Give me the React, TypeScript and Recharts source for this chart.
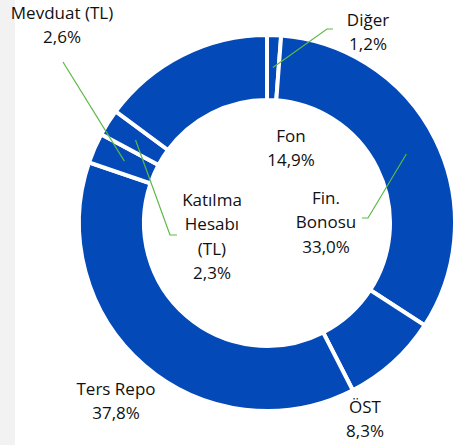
import { PieChart, Pie, Cell } from 'recharts';

// portföy dağılımı (%), saat 12'den saat yönünde
const categories = ['Diğer', 'Fin.\nBonosu', 'ÖST', 'Ters Repo', 'Mevduat (TL)', 'Katılma\nHesabı\n(TL)', 'Fon'];
const shares = [1.2, 33.0, 8.3, 37.8, 2.6, 2.3, 14.9];

const data = categories.map((name, i) => ({ name, value: shares[i] }));

const BLUE = '#0349b8';
const LINE_GREEN = '#5cb946';
const RADIAN = Math.PI / 180;
const LINE_H = 24.5;

// etiket yerleşimi (Excel'deki elle taşınmış etiketler gibi)
const labelLayout: Record<string, { x: number; y: number; leader?: [number, number][] }> = {
  'Diğer': { x: 368, y: 19, leader: [[327, 29], [333, 29]] },
  'Fin.\nBonosu': { x: 326, y: 197, leader: [[368, 218], [362, 218]] },
  'ÖST': { x: 365, y: 406 },
  'Ters Repo': { x: 116, y: 388 },
  'Mevduat (TL)': { x: 62, y: 12, leader: [[63, 62]] },
  'Katılma\nHesabı\n(TL)': { x: 212, y: 199, leader: [[170, 235], [177, 235]] },
  'Fon': { x: 291, y: 135 },
};

function formatPct(v: number) {
  return `${v.toFixed(1).replace('.', ',')}%`;
}

function renderLabel(props: any) {
  const { cx, cy, midAngle, innerRadius, outerRadius, name, value } = props;
  const pos = labelLayout[name];
  if (!pos) return null;
  const lines = [...String(name).split('\n'), formatPct(value)];
  let path = '';
  if (pos.leader) {
    const r = (innerRadius + outerRadius) / 2;
    const sx = cx + r * Math.cos(-midAngle * RADIAN);
    const sy = cy + r * Math.sin(-midAngle * RADIAN);
    path = `M${sx},${sy}` + pos.leader.map(([x, y]) => ` L${x},${y}`).join('');
  }
  return (
    <g>
      {path && <path d={path} stroke={LINE_GREEN} strokeWidth={1.2} fill="none" />}
      <text
        x={pos.x}
        y={pos.y}
        textAnchor="middle"
        fill="#111"
        fontSize={17}
        fontFamily="'Open Sans', sans-serif"
      >
        {lines.map((l, i) => (
          <tspan key={i} x={pos.x} y={pos.y + i * LINE_H} dominantBaseline="central">
            {l}
          </tspan>
        ))}
      </text>
    </g>
  );
}

export default function App() {
  return (
    <div style={{ position: 'relative', width: 455, height: 445, background: '#fff' }}>
      <style>{`body{margin:0}`}</style>
      <div style={{ position: 'absolute', left: 0, top: 0, width: 15, height: 445, background: '#f2f2f2' }} />
      <div style={{ position: 'absolute', left: 0, top: 0 }}>
        <PieChart width={455} height={445} margin={{ top: 0, right: 0, bottom: 0, left: 0 }}>
          <Pie
            data={data}
            dataKey="value"
            nameKey="name"
            cx={267}
            cy={223}
            innerRadius={123}
            outerRadius={188}
            startAngle={90}
            endAngle={-270}
            stroke="#fff"
            strokeWidth={4}
            label={renderLabel}
            labelLine={false}
            isAnimationActive={false}
          >
            {data.map((d) => (
              <Cell key={d.name} fill={BLUE} />
            ))}
          </Pie>
        </PieChart>
      </div>
    </div>
  );
}
